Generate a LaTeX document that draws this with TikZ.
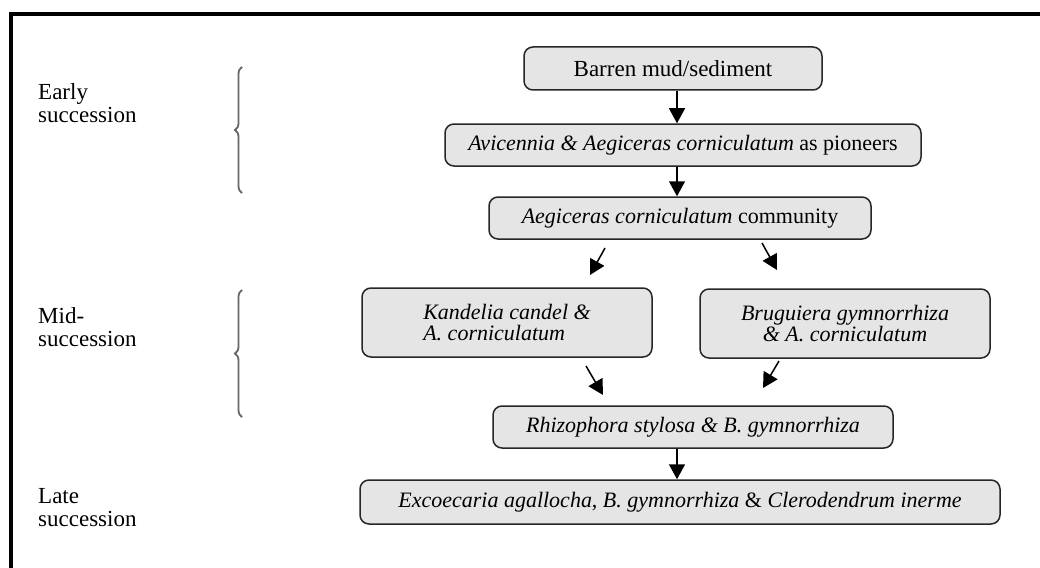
\documentclass[tikz,border=0pt]{standalone}
\usepackage{fontspec}
\setmainfont{Liberation Serif}
\usetikzlibrary{arrows.meta,decorations.pathreplacing}

\begin{document}
\begin{tikzpicture}[x=1pt, y=-1pt,
    stagebox/.style={draw=black!85, line width=1.5pt, fill=gray!20,
        rounded corners=9pt, inner sep=0pt,
        font=\fontsize{22}{21}\selectfont},
    phase/.style={anchor=north west, inner sep=0pt, align=left,
        font=\fontsize{23}{23}\selectfont},
    flow/.style={line width=1.5pt, -{Triangle[length=15pt,width=16pt]}},
    span/.style={draw=black!60, line width=1.8pt,
        decorate, decoration={brace, amplitude=7pt}}]
    \clip (0,0) rectangle (1040,567);
    \fill[white] (0,0) rectangle (1040,567);

    % Frame (left and top edges only show)
    \draw[line width=4pt] (10.5,580) -- (10.5,14.5) -- (1050,14.5);

    % Stage labels
    \node[phase] (early) at (38,83) {Early\\succession};
    \node[phase] (mid) at (38,307) {Mid-\\succession};
    \node[phase] (late) at (38,488) {Late\\succession};

    % Braces
    \draw[span] (242,193) -- (242,67);
    \draw[span] (242,417) -- (242,290);

    % Succession stages
    \node[stagebox, minimum width=298pt, minimum height=43pt] (barren) at (673,68.5)
        {\fontsize{23}{23}\selectfont Barren mud/sediment};
    \node[stagebox, minimum width=476pt, minimum height=42pt] (pioneer) at (683,145)
        {\textit{Avicennia \& Aegiceras corniculatum} as pioneers};
    \node[stagebox, minimum width=382pt, minimum height=42pt] (commun) at (680,218)
        {\textit{Aegiceras corniculatum} community};
    \node[stagebox, minimum width=290pt, minimum height=69pt, align=left] (kandel) at (507,322.5)
        {\textit{Kandelia candel \&}\\\textit{A. corniculatum}};
    \node[stagebox, minimum width=290pt, minimum height=69pt, align=center] (brugui) at (845,323.5)
        {\textit{Bruguiera gymnorrhiza}\\\textit{\& A. corniculatum}};
    \node[stagebox, minimum width=400pt, minimum height=42pt] (rhizo) at (693,427)
        {\textit{Rhizophora stylosa \& B. gymnorrhiza}};
    \node[stagebox, minimum width=640pt, minimum height=44pt] (excoec) at (680,502)
        {\textit{Excoecaria agallocha}, \textit{B. gymnorrhiza} \& \textit{Clerodendrum inerme}};

    % Arrows
    \coordinate (trunk) at (677,0);
    \draw[flow] (barren.south -| trunk) -- (pioneer.north -| trunk);
    \draw[flow] (pioneer.south -| trunk) -- (commun.north -| trunk);
    \draw[flow] (rhizo.south -| trunk) -- (excoec.north -| trunk);

    \coordinate (splitL) at (605,248);  \coordinate (toKand) at (590,275);
    \coordinate (splitR) at (762,243);  \coordinate (toBrug) at (777,270);
    \coordinate (fromKand) at (586,366); \coordinate (joinL) at (603,395);
    \coordinate (fromBrug) at (779,361); \coordinate (joinR) at (763,388);
    \draw[flow] (splitL) -- (toKand);
    \draw[flow] (splitR) -- (toBrug);
    \draw[flow] (fromKand) -- (joinL);
    \draw[flow] (fromBrug) -- (joinR);
\end{tikzpicture}
\end{document}
